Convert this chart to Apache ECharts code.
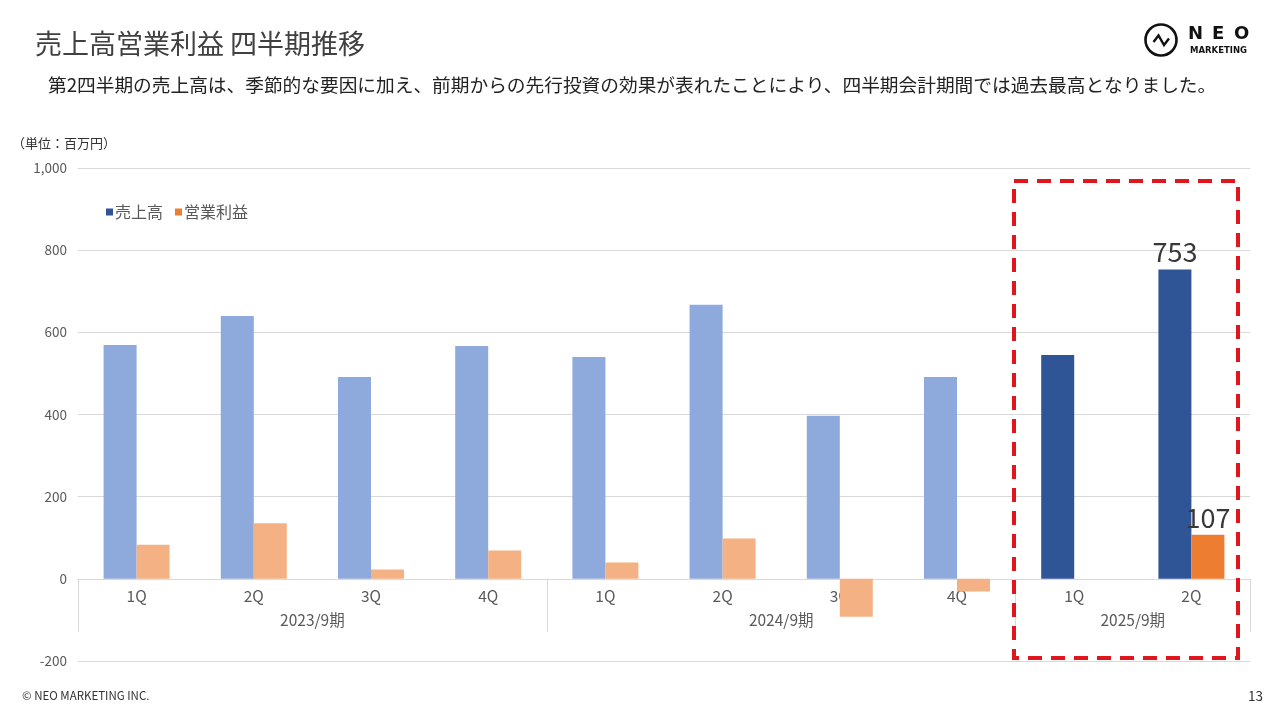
<!DOCTYPE html>
<html>
<head>
<meta charset="utf-8">
<script src="https://cdn.jsdelivr.net/npm/echarts@6/dist/echarts.min.js"></script>
<style>
html,body{margin:0;padding:0;background:#fff;}
#c{width:1280px;height:720px;}
</style>
</head>
<body>
<div id="c"></div>
<script>
const quarters = ['1Q','2Q','3Q','4Q','1Q','2Q','3Q','4Q','1Q','2Q'];
const groups = ['2023/9期','2024/9期','2025/9期'];
const groupCenters = [2, 6, 9];
const groupBounds = [0, 4, 8, 10];
const sales = [569, 640, 491, 567, 540, 667, 397, 491, 545, 753];
const opProfit = [83, 135, 23, 69, 40, 98, -92, -31, 0, 107];
const yTicks = [-200, 0, 200, 400, 600, 800, 1000];

const FONT = '"Noto Sans CJK JP", "Noto Sans", sans-serif';
const salesLight = '#8EA9DB', salesDark = '#2F5597';
const opLight = '#F4B183', opDark = '#ED7D31';
const highlightFrom = 8;

const gridTop = 168, gridBottom = 59, chartH = 720;
const plotH = chartH - gridTop - gridBottom;
const yMin = yTicks[0], yMax = yTicks[yTicks.length - 1];
// offset that moves the bottom axes up to the zero line
const zeroOffset = -plotH * (0 - yMin) / (yMax - yMin);

const chart = echarts.init(document.getElementById('c'));
chart.setOption({
  backgroundColor: '#fff',
  textStyle: { fontFamily: FONT },
  animation: false,
  grid: { left: 78, right: 30, top: gridTop, bottom: gridBottom, containLabel: false },
  legend: {
    left: 101, top: 199,
    icon: 'rect', itemWidth: 7, itemHeight: 7, itemGap: 12,
    textStyle: { fontSize: 16, color: '#595959', fontFamily: FONT, padding: [0,0,0,-3] },
    data: ['売上高', '営業利益']
  },
  xAxis: [
    {
      type: 'category', data: quarters, position: 'bottom', offset: zeroOffset,
      axisLine: { onZero: false, lineStyle: { color: '#d9d9d9', width: 1 } },
      axisTick: { show: false },
      axisLabel: { color: '#595959', fontSize: 15.5, margin: 10, fontFamily: FONT }
    },
    {
      type: 'value', min: 0, max: 10, position: 'bottom', offset: zeroOffset,
      axisLine: { show: false, onZero: false },
      axisTick: { show: true, customValues: groupBounds, length: 53, lineStyle: { color: '#d9d9d9' } },
      axisLabel: {
        show: true, customValues: groupCenters, margin: 34, color: '#595959', fontSize: 15.5, fontFamily: FONT,
        formatter: v => groups[groupCenters.indexOf(v)] || ''
      },
      splitLine: { show: false }
    }
  ],
  yAxis: {
    type: 'value', min: yMin, max: yMax, interval: 200,
    axisLine: { show: false }, axisTick: { show: false },
    axisLabel: { color: '#595959', fontSize: 13.5, margin: 11, fontFamily: FONT,
      formatter: v => v.toLocaleString('en-US') },
    splitLine: { lineStyle: { color: '#d9d9d9', width: 1 } }
  },
  series: [
    {
      name: '売上高', type: 'bar', data: sales, barWidth: 33, barGap: '0%',
      itemStyle: { color: p => p.dataIndex >= highlightFrom ? salesDark : salesLight },
      label: { show: true, position: 'top', distance: 4, fontSize: 27, color: '#383838', fontFamily: FONT,
        formatter: p => p.dataIndex === sales.length - 1 ? String(p.value) : '' }
    },
    {
      name: '営業利益', type: 'bar', data: opProfit, barWidth: 33, barGap: '0%',
      itemStyle: { color: p => p.dataIndex >= highlightFrom ? opDark : opLight },
      label: { show: true, position: 'top', distance: 4, fontSize: 27, color: '#383838', fontFamily: FONT,
        formatter: p => p.dataIndex === opProfit.length - 1 ? String(p.value) : '' }
    }
  ],
  color: [salesDark, opDark],
  graphic: [
    { type: 'text', left: 35, top: 30, style: { text: '売上高営業利益 四半期推移', fontSize: 27, fill: '#404040', fontFamily: FONT } },
    { type: 'text', left: 48, top: 76, style: { text: '第2四半期の売上高は、季節的な要因に加え、前期からの先行投資の効果が表れたことにより、四半期会計期間では過去最高となりました。', fontSize: 18.7, fill: '#222', fontFamily: FONT } },
    { type: 'text', left: 12, top: 137, style: { text: '（単位：百万円）', fontSize: 13, fill: '#333', fontFamily: FONT } },
    { type: 'text', left: 22, top: 690, style: { text: '© NEO MARKETING INC.', fontSize: 11.5, fill: '#333', fontFamily: FONT } },
    { type: 'text', left: 1248, top: 689, style: { text: '13', fontSize: 13.5, fill: '#333', fontFamily: FONT } },
    { type: 'rect', shape: { x: 1014, y: 181, width: 224, height: 477 }, style: { fill: 'none', stroke: '#E0161E', lineWidth: 4, lineDash: [14, 9] }, z: 100 },
    { type: 'circle', shape: { cx: 1161, cy: 40, r: 15.5 }, style: { fill: 'none', stroke: '#111', lineWidth: 2.6 } },
    { type: 'polyline', shape: { points: [[1153.5, 42], [1158.5, 35.5], [1164, 45], [1169, 38.5]] }, style: { fill: 'none', stroke: '#111', lineWidth: 2.4, lineJoin: 'miter' } },
    { type: 'text', left: 1188, top: 25, style: { text: 'N', fontSize: 18, fontWeight: 'bold', fill: '#111', fontFamily: '"DejaVu Sans", sans-serif' } },
    { type: 'text', left: 1212, top: 25, style: { text: 'E', fontSize: 18, fontWeight: 'bold', fill: '#111', fontFamily: '"DejaVu Sans", sans-serif' } },
    { type: 'text', left: 1234, top: 25, style: { text: 'O', fontSize: 18, fontWeight: 'bold', fill: '#111', fontFamily: '"DejaVu Sans", sans-serif' } },
    { type: 'text', left: 1190, top: 46, style: { text: 'MARKETING', fontSize: 8.5, fontWeight: 'bold', fill: '#111', fontFamily: '"DejaVu Sans", sans-serif' } }
  ]
});
</script>
</body>
</html>
